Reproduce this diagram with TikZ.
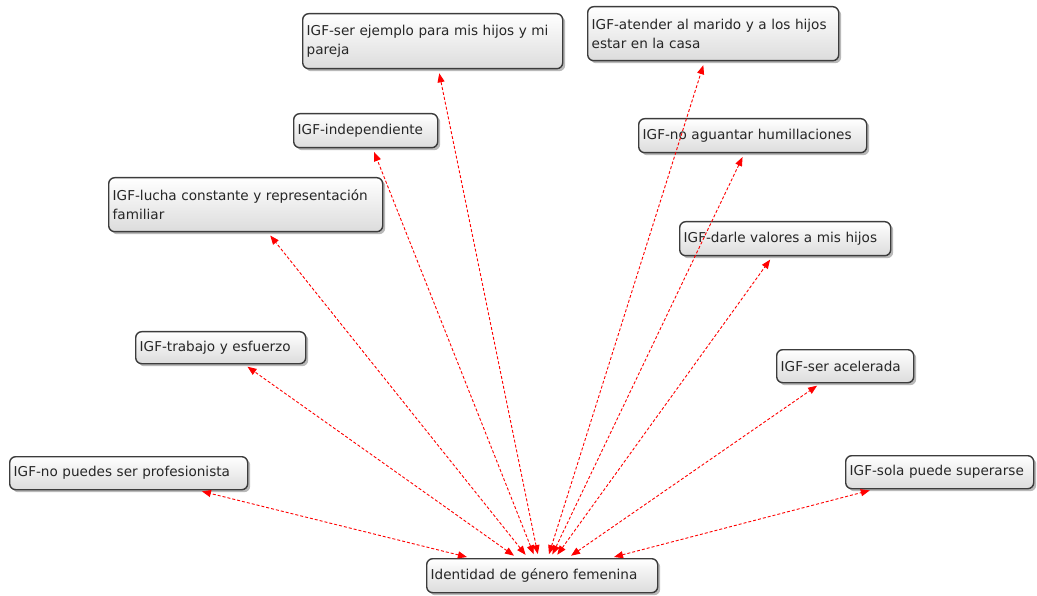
\documentclass[tikz,border=0pt]{standalone}
\usepackage{fontspec}
\usepackage{tikz}
\usetikzlibrary{arrows.meta,shadows}
\newfontfamily\igffont{DejaVu Sans}
\definecolor{boxline}{HTML}{3C3C3C}
\definecolor{boxlow}{HTML}{DCDCDC}

\tikzset{
  igfbox/.style={draw=boxline, line width=1.4pt, rounded corners=6pt,
    top color=white, bottom color=boxlow, anchor=north west, align=left,
    inner xsep=4pt, inner ysep=3pt, text=black!85,
    font=\igffont\fontsize{13.6}{19}\selectfont,
    drop shadow={shadow xshift=2.5pt, shadow yshift=-2.5pt, opacity=0.55}},
  link/.style={red, line width=0.9pt, dash pattern=on 3pt off 2pt,
    {Triangle[length=9pt,width=7pt]}-{Triangle[length=9pt,width=7pt]},
    shorten <=4pt, shorten >=4pt}
}

\begin{document}
\begin{tikzpicture}[x=1pt,y=-1pt]
\useasboundingbox (0,0) rectangle (1037,596);
% center
\node[igfbox, text width=223pt, minimum height=34pt] (ctr) at (426,558) {Identidad de género femenina};
% outer boxes
\node[igfbox, text width=252pt, minimum height=55pt] (ejemplo) at (302,13) {IGF-ser ejemplo para mis hijos y mi\\pareja};
\node[igfbox, text width=243pt, minimum height=54pt] (atender) at (587,6) {IGF-atender al marido y a los hijos\\estar en la casa};
\node[igfbox, text width=136pt, minimum height=34pt] (indep) at (293,113) {IGF-independiente};
\node[igfbox, text width=220pt, minimum height=34pt] (humill) at (638,118) {IGF-no aguantar humillaciones};
\node[igfbox, text width=266pt, minimum height=54pt] (lucha) at (108,177) {IGF-lucha constante y representación\\familiar};
\node[igfbox, text width=203pt, minimum height=34pt] (valores) at (679,221) {IGF-darle valores a mis hijos};
\node[igfbox, text width=162pt, minimum height=32pt] (trabajo) at (135,331) {IGF-trabajo y esfuerzo};
\node[igfbox, text width=129pt, minimum height=33pt] (aceler) at (776,349) {IGF-ser acelerada};
\node[igfbox, text width=230pt, minimum height=33pt] (profes) at (9,456) {IGF-no puedes ser profesionista};
\node[igfbox, text width=180pt, minimum height=33pt] (supera) at (845,455) {IGF-sola puede superarse};
% links
\foreach \n in {ejemplo,atender,indep,humill,lucha,valores,trabajo,aceler,profes,supera}
  \draw[link] (ctr) -- (\n);
\end{tikzpicture}
\end{document}
